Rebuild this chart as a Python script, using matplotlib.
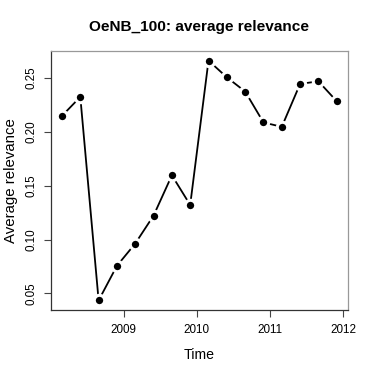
import matplotlib
matplotlib.use("Agg")
import matplotlib.pyplot as plt
import numpy as np

# quarterly series
start = 2008.16
values = [0.2148, 0.2324, 0.0435, 0.0756, 0.0963, 0.1222, 0.1596, 0.1321,
          0.2661, 0.2506, 0.2374, 0.2087, 0.2046, 0.2444, 0.2469, 0.2284]
times = start + 0.25 * np.arange(len(values))

xticks = [2009, 2010, 2011, 2012]
yticks = [0.05, 0.10, 0.15, 0.20, 0.25]

plt.rcParams['font.family'] = ['Liberation Sans', 'DejaVu Sans']

fig = plt.figure(figsize=(3.74, 3.74), dpi=100)
ax = fig.add_axes([51 / 374, 64 / 374, 296.7 / 374, 259 / 374])

ax.plot(times, values, color='black', lw=1.3, marker='o', ms=7.5,
        mfc='black', mec='white', mew=2.2, solid_capstyle='butt')

pad_x = 0.04 * (times.max() - times.min())
pad_y = 0.04 * (max(values) - min(values))
ax.set_xlim(times.min() - pad_x, times.max() + pad_x)
ax.set_ylim(min(values) - pad_y, max(values) + pad_y)

ax.set_xticks(xticks)
ax.set_xticklabels([str(t) for t in xticks], fontsize=8.4)
ax.set_yticks(yticks)
ax.set_yticklabels(['%.2f' % t for t in yticks], fontsize=8.4, rotation=90, va='center')
ax.tick_params(axis='both', length=5, width=0.8, color='#444444', pad=5)

for s in ['left', 'bottom']:
    ax.spines[s].set_color('#333333')
for s in ['top', 'right']:
    ax.spines[s].set_color('#999999')
for s in ax.spines.values():
    s.set_linewidth(0.9)

ax.set_xlabel('Time', fontsize=10.2, labelpad=9)
ax.set_ylabel('Average relevance', fontsize=10.8, labelpad=5)
ax.text(0.5, 1 - 26.7 / 374, 'OeNB_100: average relevance', transform=fig.transFigure,
        ha='center', va='center', fontsize=11.1, fontweight='bold')
# centre the title over the plot region, as R does
ax.texts[-1].set_x((51 + 296.7 / 2) / 374)

fig.savefig('out.png', dpi=100)
